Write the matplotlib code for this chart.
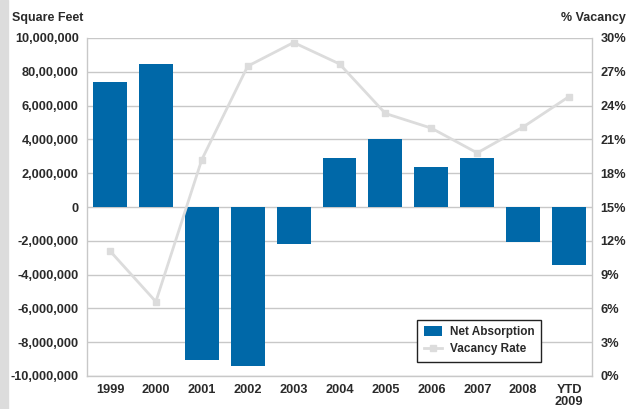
#!/usr/bin/env python3

import numpy as np
import matplotlib.pyplot as plt
from matplotlib.patches import Rectangle

years = ["1999", "2000", "2001", "2002", "2003", "2004", "2005", "2006", "2007", "2008", "YTD\n2009"]
net_absorption = [7400000, 8450000, -9050000, -9400000, -2200000, 2900000, 4000000, 2370000, 2900000, -2070000, -3430000]
vacancy_rate = [11.1, 6.6, 19.2, 27.5, 29.6, 27.7, 23.3, 22.0, 19.8, 22.1, 24.8]

left_ticks = [-10000000, -8000000, -6000000, -4000000, -2000000, 0, 2000000, 4000000, 6000000, 8000000, 10000000]
left_labels = ["-10,000,000", "-8,000,000", "-6,000,000", "-4,000,000", "-2,000,000", "0",
               "2,000,000", "4,000,000", "6,000,000", "80,00,000", "10,000,000"]
right_ticks = [0, 3, 6, 9, 12, 15, 18, 21, 24, 27, 30]

def main():
    plt.rcParams['font.family'] = ['Liberation Sans', 'DejaVu Sans']
    plt.rcParams['font.weight'] = 'bold'
    txt = '#2a2a2a'
    grid = '#c8c8c8'

    fig = plt.figure(figsize=(6.29, 4.09), dpi=100)
    fig.patches.append(Rectangle((0, 0), 8 / 629, 1, transform=fig.transFigure,
                                 color='#dcdcdc', zorder=0))
    ax = fig.add_axes([87 / 629, 33 / 409, 505 / 629, 338 / 409])
    x = np.arange(len(years))

    ax.bar(x, net_absorption, width=0.74, color='#0068a8', zorder=3, label='Net Absorption')
    ax.set_ylim(-10000000, 10000000)
    ax.set_xlim(-0.5, len(years) - 0.5)
    ax.set_yticks(left_ticks)
    ax.set_yticklabels(left_labels)
    ax.set_xticks(x)
    ax.set_xticklabels(years, linespacing=1.0)
    ax.yaxis.grid(True, color=grid, linewidth=1, zorder=0)
    ax.tick_params(length=0, labelsize=9.2, colors=txt, pad=6)
    for s in ['left', 'right', 'bottom', 'top']:
        ax.spines[s].set_color(grid)
        ax.spines[s].set_linewidth(1)
    ax.spines['top'].set_visible(False)

    ax2 = ax.twinx()
    ax2.plot(x, vacancy_rate, color='#dcdcdc', marker='s', markersize=5, linewidth=2,
             zorder=4, label='Vacancy Rate')
    ax2.set_ylim(0, 30)
    ax2.set_yticks(right_ticks)
    ax2.set_yticklabels([f"{t}%" for t in right_ticks])
    ax2.tick_params(length=0, labelsize=9.2, colors=txt, pad=6)
    for s in ax2.spines.values():
        s.set_visible(False)
    ax.set_zorder(1)
    ax2.set_zorder(2)

    h1, l1 = ax.get_legend_handles_labels()
    h2, l2 = ax2.get_legend_handles_labels()
    leg = ax2.legend(h1 + h2, l1 + l2, loc='lower right', bbox_to_anchor=(0.91, 0.025),
                     fancybox=False, edgecolor='#222222', framealpha=1,
                     fontsize=8.5, handlelength=1.6, handleheight=0.9, borderpad=0.55,
                     labelspacing=0.4, handletextpad=0.6)
    leg.get_frame().set_linewidth(1)
    for t in leg.get_texts():
        t.set_color(txt)

    fig.text(12 / 629, 1 - 18 / 409, "Square Feet", fontsize=9, color=txt, va='center', ha='left')
    fig.text(626 / 629, 1 - 18 / 409, "% Vacancy", fontsize=9, color=txt, va='center', ha='right')

    fig.savefig("out.png", dpi=100)

if __name__ == "__main__":
    main()
